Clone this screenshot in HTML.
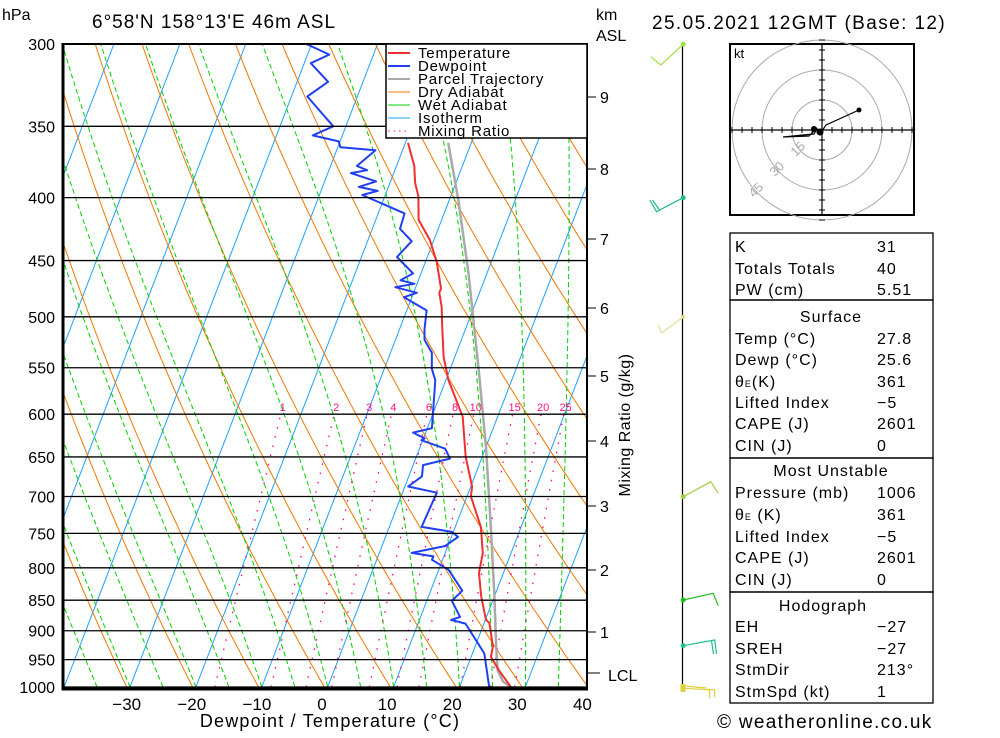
<!DOCTYPE html>
<html><head><meta charset="utf-8">
<style>
html,body{margin:0;padding:0;background:#fff;}
body{width:1000px;height:733px;overflow:hidden;position:relative;font-family:"Liberation Sans",sans-serif;}
svg text{font-family:"Liberation Sans",sans-serif;}
</style></head>
<body>
<svg id="chart" width="1000" height="733" viewBox="0 0 1000 733" xmlns="http://www.w3.org/2000/svg">
<defs><clipPath id="plotclip"><rect x="63" y="44" width="524" height="644"/></clipPath></defs>
<g id="bg" clip-path="url(#plotclip)"></g>
<g id="series" clip-path="url(#plotclip)"></g>
<g id="frame"></g>
</svg>
<script>
// ---- data ----
const tempP = [361,377,389,399,417,433,451,474,478,491,509,539,563,603,650,687,700,741,778,808,844,882,887,927,945,969,1000];
const tempT = [-19.6,-17.3,-16.2,-14.9,-13.5,-10.6,-8.3,-6.1,-6.1,-4.9,-3.7,-1.7,0.4,4.7,7.5,10.2,10.6,13.9,15.7,16.3,18.0,20.1,20.8,22.7,23.0,25.0,27.8];
const dewP = [300,306,311,322,331,350,356,360,364,366,377,380,382,388,392,395,398,412,424,434,447,461,467,470,473,478,482,494,512,522,535,551,563,616,621,628,630,640,652,660,674,687,695,741,748,755,768,778,783,788,803,835,851,877,882,888,939,1000];
const dewT = [-40.8,-36.7,-39.0,-35.3,-37.6,-31.9,-34.5,-30.2,-29.6,-24.1,-26.0,-24.2,-26.5,-22.2,-24.5,-21.4,-23.5,-16.0,-15.8,-13.3,-14.6,-11.2,-12.7,-10.4,-13.1,-9.5,-11.2,-7.0,-6.2,-5.6,-3.7,-2.8,-1.6,0.7,-1.9,0.2,-0.2,3.9,5.2,1.5,2.0,0.5,5.2,4.9,9.8,11.0,9.6,4.9,8.4,8.4,11.5,14.8,13.8,16.0,14.8,17.2,21.8,24.5];
const parcelP = [361,402,461,551,638,745,844,927,969,990,1000];
const parcelT = [-13.5,-8.6,-2.8,4.3,10.0,15.6,20.0,23.2,24.8,26.3,27.8];
const pressureTicks = [300,350,400,450,500,550,600,650,700,750,800,850,900,950,1000];
const tempTicks = [-30,-20,-10,0,10,20,30,40];
const mixRatios = [1,2,3,4,6,8,10,15,20,25];
const kmTicks = [9,8,7,6,5,4,3,2,1];
const kmY = [97,169,239,308,376,441,506,570,632];

// ---- axes ----
const Y0=687, PLOT_H=643, LN=Math.log(1000/300);
function yP(p){return Y0-PLOT_H*Math.log(1000/p)/LN;}
function xT(T,p){return 327.7+6.59*T+0.385*(Y0-yP(p));}
const NS='http://www.w3.org/2000/svg';
function mk(tag,attrs,parent){const e=document.createElementNS(NS,tag);for(const k in attrs)e.setAttribute(k,attrs[k]);parent.appendChild(e);return e;}
const bg=document.getElementById('bg'), ser=document.getElementById('series'), fr=document.getElementById('frame');
function pts(arr){return arr.map(a=>a[0].toFixed(1)+','+a[1].toFixed(1)).join(' ');}

// isotherms
for(let T=-120;T<=40;T+=10){
  const l=mk('line',{x1:xT(T,1000),y1:yP(1000),x2:xT(T,300),y2:yP(300),stroke:'#1ea0ff','stroke-width':1},bg);
  
  
}
// dry adiabats
for(let th=-40.5;th<=160;th+=10){
  const a=[];for(let p=1000;p>=300;p-=10){const Tk=(th+273.15)*Math.pow(p/1000,0.286);a.push([xT(Tk-273.15,p),yP(p)]);}
  const l=mk('polyline',{points:pts(a),fill:'none',stroke:'#f07800','stroke-width':1},bg);
  
  
}
// wet adiabats
function es(T){return 6.112*Math.exp(17.67*T/(T+243.5));}
for(let T0=-40;T0<=40;T0+=5){
  let T=T0;const a=[[xT(T,1000),yP(1000)]];
  for(let p=1000;p>300;p-=5){const Tk=T+273.15;const e=es(T);const rs=0.622*e/(p-e);
    const d=(287*Tk+2.5e6*rs)/(p*(1005+2.5e6*2.5e6*rs*0.622/(287*Tk*Tk)));T-=d*5;a.push([xT(T,p-5),yP(p-5)]);}
  const l=mk('polyline',{points:pts(a),fill:'none',stroke:'#00d000','stroke-width':1,'stroke-dasharray':'5,3'},bg);
  
  
}
// mixing ratio lines
mixRatios.forEach(w=>{
  const a=[];for(let p=1000;p>=600;p-=10){const e=(w/1000)*p/(0.622+w/1000);const L=Math.log(e/6.112);const Td=243.5*L/(17.67-L);a.push([xT(Td,p),yP(p)]);}
  const l=mk('polyline',{points:pts(a),fill:'none',stroke:'#ff0080','stroke-width':1.3,'stroke-dasharray':'1.5,8'},bg);
  
  
  const t=mk('text',{x:a[a.length-1][0]+2,y:411,'font-size':11,fill:'#ff1080','text-anchor':'middle'},fr);
  t.textContent=w;
  
  
});
// isobars + pressure labels
pressureTicks.forEach(p=>{
  const l=mk('line',{x1:63,x2:587,y1:yP(p),y2:yP(p),stroke:'#000','stroke-width':1.3},fr);
  
  
  const t=mk('text',{x:55,y:yP(p)+6,'font-size':16,'text-anchor':'end',fill:'#000'},fr);
  t.textContent=p;
  
  
});
// series
function seriesLine(P,T,color,w,name){
  const a=P.map((p,i)=>[xT(T[i],p),yP(p)]);
  const l=mk('polyline',{points:pts(a),fill:'none',stroke:color,'stroke-width':w,'stroke-linejoin':'round'},ser);
  
  
}
seriesLine(parcelP,parcelT,'#aaaaaa',2.5,'parcel-trajectory-line');
seriesLine(tempP,tempT,'#f03030',2,'temperature-line');
seriesLine(dewP,dewT,'#2040f0',2,'dewpoint-line');
// frame
const b=mk('rect',{x:63,y:44,width:524,height:644,fill:'none',stroke:'#000','stroke-width':2},fr);


mk('line',{x1:63,y1:43,x2:63,y2:690,stroke:'#000','stroke-width':3},fr);
mk('line',{x1:62,y1:689,x2:588,y2:689,stroke:'#000','stroke-width':3},fr);
tempTicks.forEach(T=>{
  const t=mk('text',{x:324+6.51*T-2,y:710,'font-size':17,'text-anchor':'middle',fill:'#000'},fr);
  t.textContent=(T<0?'\u2212':'')+Math.abs(T);
  
  
});
kmTicks.forEach((k,i)=>{
  mk('line',{x1:587,x2:596,y1:kmY[i],y2:kmY[i],stroke:'#000','stroke-width':1},fr);
  const t=mk('text',{x:600,y:kmY[i]+6,'font-size':16,fill:'#000'},fr);
  t.textContent=k;
  
  
});
mk('line',{x1:587,x2:600,y1:673,y2:673,stroke:'#000','stroke-width':1},fr);
</script>
<svg style="position:absolute;left:0;top:0" width="1000" height="733" xmlns="http://www.w3.org/2000/svg">
<g font-family="Liberation Sans, sans-serif" fill="#000">
<text x="2" y="20" font-size="16">hPa</text>
<text x="92" y="28" font-size="19" letter-spacing="1">6°58'N  158°13'E  46m  ASL</text>
<text x="596" y="20" font-size="16">km</text>
<text x="596" y="41" font-size="16">ASL</text>
<text x="652" y="29" font-size="19" letter-spacing="1.4">25.05.2021  12GMT  (Base: 12)</text>
<text x="608" y="681" font-size="16">LCL</text>
<text transform="translate(630,425) rotate(-90)" text-anchor="middle" font-size="16" letter-spacing="0.5">Mixing Ratio (g/kg)</text>
<text x="330" y="727" text-anchor="middle" font-size="18" letter-spacing="1.2">Dewpoint / Temperature (°C)</text>
<text x="717" y="728" font-size="19" letter-spacing="1.3">© weatheronline.co.uk</text>
</g>
<g font-family="Liberation Sans, sans-serif" font-size="15" letter-spacing="0.8">
<rect x="386" y="44" width="201" height="94" fill="#fff" stroke="#000" stroke-width="1.5"/>
<line x1="388" x2="410" y1="53" y2="53" stroke="#f03030" stroke-width="2"/><text x="418" y="58">Temperature</text>
<line x1="388" x2="410" y1="66" y2="66" stroke="#2040f0" stroke-width="2"/><text x="418" y="71">Dewpoint</text>
<line x1="388" x2="410" y1="79" y2="79" stroke="#aaa" stroke-width="2"/><text x="418" y="84">Parcel Trajectory</text>
<line x1="388" x2="410" y1="92" y2="92" stroke="#f07800"/><text x="418" y="97">Dry Adiabat</text>
<line x1="388" x2="410" y1="105" y2="105" stroke="#00d000"/><text x="418" y="110">Wet Adiabat</text>
<line x1="388" x2="410" y1="118" y2="118" stroke="#1ea0ff"/><text x="418" y="123">Isotherm</text>
<line x1="388" x2="410" y1="131" y2="131" stroke="#ff0080" stroke-dasharray="1.5,4"/><text x="418" y="136">Mixing Ratio</text>
</g>
<g fill="none" stroke-width="1.2" transform="translate(1.5,0)">
<line x1="681" y1="44" x2="681" y2="688" stroke="#000" stroke-width="1.2"/>
<polyline points="681.7,44.3 659.3,65 649.3,56.7" stroke="#a0e040"/><circle cx="681.7" cy="44.3" r="2.5" fill="#a0e040"/>
<polyline points="681.7,197.7 655,211.7 648.3,200" stroke="#20c080"/><line x1="658" y1="210" x2="651" y2="200" stroke="#20c080"/><circle cx="681.7" cy="197.7" r="2.5" fill="#20c080"/>
<polyline points="681.7,317 660,333 657,325" stroke="#e0e0a0"/><circle cx="681.7" cy="317" r="2" fill="#e0e080"/>
<polyline points="681.7,496.7 709.3,481.7 716.7,493.3" stroke="#a0d040"/><circle cx="681.7" cy="496.7" r="2.5" fill="#a0d040"/>
<polyline points="681.7,600 711.7,593.3 716.7,605.7" stroke="#20c020"/><circle cx="681.7" cy="600" r="2.5" fill="#20c020"/>
<polyline points="681.7,645.7 713.3,640 715,654" stroke="#20c090"/><line x1="710" y1="641" x2="712" y2="654" stroke="#20c090"/><circle cx="681.7" cy="645.7" r="2.5" fill="#20c090"/>
<polyline points="681.7,688.3 713.3,690 713,697" stroke="#e0d040"/><line x1="681.7" y1="686" x2="705" y2="688" stroke="#e0d040"/><line x1="708" y1="690" x2="708" y2="698" stroke="#e0d040"/><rect x="679" y="684" width="5" height="8" fill="#e0d040" stroke="none"/>
</g>
<g font-family="Liberation Sans, sans-serif" transform="translate(3,0)">
<rect x="727" y="44" width="184" height="171" fill="#fff" stroke="#000" stroke-width="2"/>
<g stroke="#aaa" fill="none" stroke-width="1">
<circle cx="819" cy="130" r="30"/><circle cx="819" cy="130" r="60"/><circle cx="819" cy="130" r="90"/>
</g>
<line x1="728" x2="910" y1="130" y2="130" stroke="#000" stroke-width="1.2"/>
<line x1="819" x2="819" y1="45" y2="214" stroke="#000" stroke-width="1.2"/>
<g stroke="#000" stroke-width="1" id="hticks"></g>
<text x="731" y="58" font-size="13">kt</text>
<g fill="#aaa" font-size="13">
<text transform="translate(798,152) rotate(-45)" text-anchor="middle">15</text>
<text transform="translate(777,172) rotate(-45)" text-anchor="middle">30</text>
<text transform="translate(756,193) rotate(-45)" text-anchor="middle">45</text>
</g>
<polyline points="856,110 823,125 819,131 814,129 811,134 800,135 780,137 806,136 814,128" fill="none" stroke="#000" stroke-width="1.2"/>
<circle cx="856" cy="110" r="2.5"/><circle cx="811" cy="129" r="3"/><circle cx="817" cy="132" r="3.5"/>
</g>
<g font-family="Liberation Sans, sans-serif" font-size="16" letter-spacing="1" fill="#000" transform="translate(3,0)">
<rect x="727" y="233" width="203" height="67" fill="none" stroke="#000" stroke-width="1.3"/>
<rect x="727" y="300" width="203" height="158" fill="none" stroke="#000" stroke-width="1.3"/>
<rect x="727" y="458" width="203" height="134" fill="none" stroke="#000" stroke-width="1.3"/>
<rect x="727" y="592" width="203" height="111" fill="none" stroke="#000" stroke-width="1.3"/>
<text x="732" y="252">K</text><text x="874" y="252">31</text>
<text x="732" y="274">Totals Totals</text><text x="874" y="274">40</text>
<text x="732" y="295">PW (cm)</text><text x="874" y="295">5.51</text>
<text x="828" y="322" text-anchor="middle">Surface</text>
<text x="732" y="344">Temp (°C)</text><text x="874" y="344">27.8</text>
<text x="732" y="365">Dewp (°C)</text><text x="874" y="365">25.6</text>
<text x="732" y="387">θ<tspan font-size="9">E</tspan>(K)</text><text x="874" y="387">361</text>
<text x="732" y="408">Lifted Index</text><text x="874" y="408">−5</text>
<text x="732" y="429">CAPE (J)</text><text x="874" y="429">2601</text>
<text x="732" y="451">CIN (J)</text><text x="874" y="451">0</text>
<text x="828" y="476" text-anchor="middle">Most Unstable</text>
<text x="732" y="498">Pressure (mb)</text><text x="874" y="498">1006</text>
<text x="732" y="520">θ<tspan font-size="9">E</tspan> (K)</text><text x="874" y="520">361</text>
<text x="732" y="542">Lifted Index</text><text x="874" y="542">−5</text>
<text x="732" y="563">CAPE (J)</text><text x="874" y="563">2601</text>
<text x="732" y="585">CIN (J)</text><text x="874" y="585">0</text>
<text x="820" y="611" text-anchor="middle">Hodograph</text>
<text x="732" y="632">EH</text><text x="874" y="632">−27</text>
<text x="732" y="654">SREH</text><text x="874" y="654">−27</text>
<text x="732" y="675">StmDir</text><text x="874" y="675">213°</text>
<text x="732" y="697">StmSpd (kt)</text><text x="874" y="697">1</text>
</g>
</svg>
<script>
const ht=document.getElementById('hticks');
for(let i=-9;i<=9;i++){ if(i===0) continue;
  const d=i*10;
  const a=document.createElementNS('http://www.w3.org/2000/svg','line');
  a.setAttribute('x1',819+d);a.setAttribute('x2',819+d);a.setAttribute('y1',127);a.setAttribute('y2',133);ht.appendChild(a);
  const c=document.createElementNS('http://www.w3.org/2000/svg','line');
  c.setAttribute('y1',130+d);c.setAttribute('y2',130+d);c.setAttribute('x1',816);c.setAttribute('x2',822);ht.appendChild(c);
}
</script>
</body></html>
